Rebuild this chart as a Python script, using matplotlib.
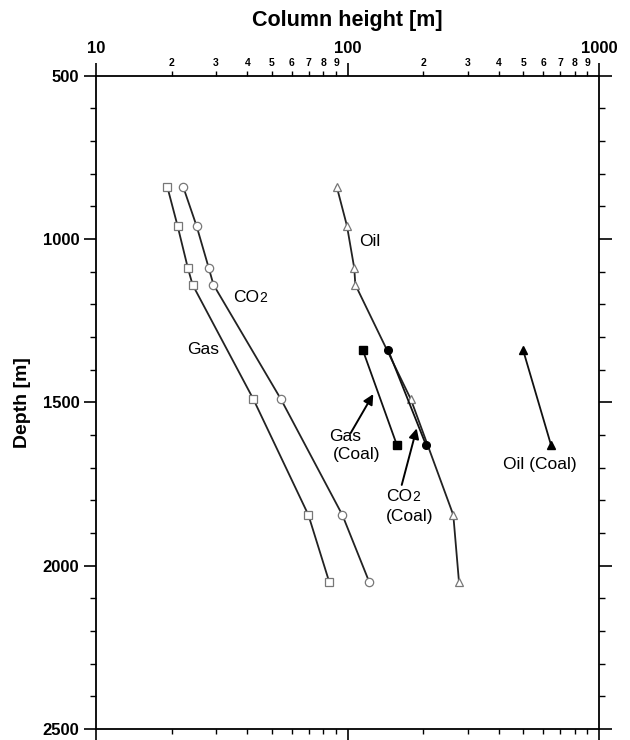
import math
import matplotlib
matplotlib.use("Agg")
import matplotlib.pyplot as plt
from matplotlib.ticker import LogLocator, FuncFormatter, MultipleLocator

plt.rcParams['font.family'] = ['Liberation Sans', 'DejaVu Sans']
plt.rcParams['font.weight'] = 'bold'

# depths of the hollow-marker series [m]
depth = [840, 960, 1090, 1140, 1490, 1845, 2050]
gas = [19.2, 21.1, 23.2, 24.2, 42.2, 69.9, 84.6]
co2 = [22.2, 25.1, 28.1, 29.3, 54.3, 95.4, 122.0]
oil = [90.6, 99.5, 106.4, 107.4, 178.4, 263.4, 277.5]

# coal cases
coal_depth = [1340, 1630]
gas_coal = [115, 157]
co2_coal = [145, 205]
oil_coal = [499, 644]


def minor_label(v, pos):
    # leading digit of the minor log tick (2..9)
    return f"{int(round(v / 10 ** math.floor(math.log10(v) + 1e-9)))}"


fig = plt.figure(figsize=(6.3, 7.4), dpi=100)
ax = fig.add_axes([0.1524, 0.0149, 0.7984, 0.883])

hollow = dict(color='#222222', lw=1.3, mfc='white', mec='#777777', mew=0.9, ms=6)
ax.plot(gas, depth, marker='s', **hollow)
ax.plot(co2, depth, marker='o', **hollow)
ax.plot(oil, depth, marker='^', **hollow)

filled = dict(color='#111111', lw=1.3, mfc='black', mec='black', ms=5.5)
ax.plot(gas_coal, coal_depth, marker='s', **filled)
ax.plot(co2_coal, coal_depth, marker='o', **filled)
ax.plot(oil_coal, coal_depth, marker='^', **filled)

ax.set_xscale('log')
ax.set_xlim(10, 1000)
ax.set_ylim(2500, 500)

# x axis: ticks top and bottom, labels on top only
ax.xaxis.set_major_locator(LogLocator(base=10))
ax.xaxis.set_minor_locator(LogLocator(base=10, subs=range(2, 10)))
ax.xaxis.set_major_formatter(FuncFormatter(lambda v, p: f"{int(round(v))}"))
ax.xaxis.set_minor_formatter(FuncFormatter(minor_label))
ax.tick_params(axis='x', which='both', top=True, bottom=True,
               labeltop=True, labelbottom=False, direction='out')
ax.tick_params(axis='x', which='major', length=9.5, width=1.2, labelsize=12, pad=4.5)
ax.tick_params(axis='x', which='minor', length=3.8, width=1.0, labelsize=7.5, pad=1.5)

# y axis
ax.yaxis.set_major_locator(MultipleLocator(500))
ax.yaxis.set_minor_locator(MultipleLocator(100))
ax.tick_params(axis='y', which='both', left=True, right=True, direction='out')
ax.tick_params(axis='y', which='major', length=9, width=1.2, labelsize=12, pad=3)
ax.tick_params(axis='y', which='minor', length=4.5, width=1.0)

for s in ax.spines.values():
    s.set_linewidth(1.3)

ax.xaxis.set_label_position('top')
ax.set_xlabel('Column height [m]', fontsize=15.5, fontweight='bold', labelpad=11)
ax.set_ylabel('Depth [m]', fontsize=14, fontweight='bold', labelpad=8)

# annotations
txt = dict(fontsize=12.5, fontweight='normal', va='center', ha='left')
ax.text(111.4, 1009, 'Oil', **txt)
co = ax.text(35.2, 1179, 'CO', **txt)
ax.annotate('2', xy=(1, 0), xycoords=co, fontsize=10, fontweight='normal',
            va='bottom', ha='left')
ax.text(23.1, 1337, 'Gas', **txt)

ax.text(84.4, 1605, 'Gas', **txt)
ax.text(87.6, 1661, '(Coal)', **txt)
ax.annotate('', xy=(126.6, 1475), xytext=(103, 1594),
            arrowprops=dict(arrowstyle='-|>', color='black', lw=1.4,
                            mutation_scale=15, shrinkA=0, shrinkB=0))

co2c = ax.text(142.2, 1789, 'CO', **txt)
ax.annotate('2', xy=(1, 0), xycoords=co2c, fontsize=10, fontweight='normal',
            va='bottom', ha='left')
ax.text(142.2, 1850, '(Coal)', **txt)
ax.annotate('', xy=(188.4, 1580), xytext=(164.3, 1753),
            arrowprops=dict(arrowstyle='-|>', color='black', lw=1.4,
                            mutation_scale=15, shrinkA=0, shrinkB=0))

ax.text(416.5, 1689, 'Oil (Coal)', **txt)

fig.savefig('out.png', dpi=100)
